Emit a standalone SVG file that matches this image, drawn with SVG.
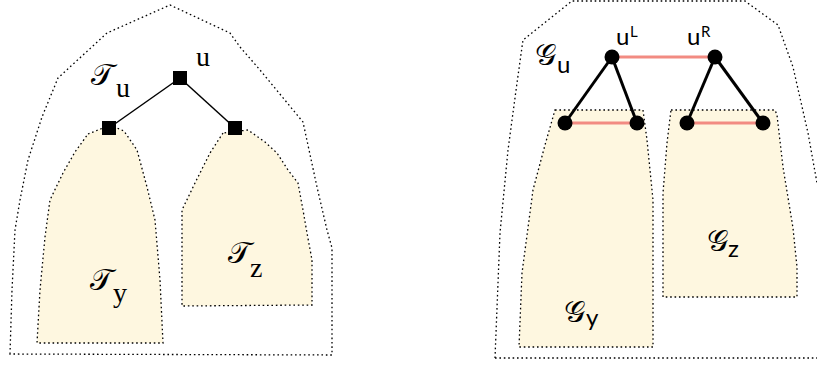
<svg xmlns="http://www.w3.org/2000/svg" width="817" height="365" viewBox="0 0 817 365">
<style>
.outline{fill:none;stroke:#000;stroke-width:1.3;stroke-dasharray:1.6 2.8}
.region{fill:#fef7e0;stroke:#000;stroke-width:1.3;stroke-dasharray:1.6 2.8}
.sq{fill:#000}
.dot{fill:#000}
.tedge{stroke:#000;stroke-width:1.5;fill:none}
.gedge{stroke:#000;stroke-width:3;fill:none}
.redge{stroke:#f28b82;stroke-width:3;fill:none}
.ser{font-family:'Liberation Serif','DejaVu Serif',serif;font-size:28px;fill:#000}
.scr{font-family:'DejaVu Sans','DejaVu Serif',sans-serif;font-size:30px;fill:#000}
.sans{font-family:Lato,'Liberation Sans',sans-serif;font-size:24px;fill:#000}
.sup{font-family:Lato,'Liberation Sans',sans-serif;font-size:15px;fill:#000}
</style>
<g id="left-figure">
<path id="Tu-outline" class="outline" d="M10,354 L12,290 L15,230 L20,200 L28,160 L42,117 L58,78 L107,33 L170,5 L230,33 L240,47 L260,70 L303,122 L317,187 L327,230 L332,248 L332,355 Z"/>
<path id="Ty-region" class="region" d="M88,134 L103,128 L117,128 L124,131 L137,150 L147,187 L155,220 L160,280 L163,343 L37,343 L40,290 L45,237 L50,200 L63,173 L75,152 Z"/>
<path id="Tz-region" class="region" d="M223,133 L210,153 L195,183 L182,210 L182,306 L312,305 L312,260 L307,233 L303,210 L298,183 L288,170 L277,153 L265,142 L248,130 Z"/>
<g id="tree-edges">
<line class="tedge" x1="180" y1="78" x2="109" y2="128"/>
<line class="tedge" x1="180" y1="78" x2="235" y2="128"/>
</g>
<g id="node-u"><rect class="sq" x="173" y="71" width="14" height="14"/><text class="ser" x="196" y="66">u</text></g>
<g id="node-y"><rect class="sq" x="102" y="121" width="14" height="14"/></g>
<g id="node-z"><rect class="sq" x="228" y="121" width="14" height="14"/></g>
<g id="label-Tu"><text class="scr" x="91" y="85">𝒯</text><text class="ser" x="116" y="97">u</text></g>
<g id="label-Ty"><text class="scr" x="90" y="290">𝒯</text><text class="ser" x="113" y="302">y</text></g>
<g id="label-Tz"><text class="scr" x="228" y="263">𝒯</text><text class="ser" x="250" y="277">z</text></g>
</g>
<g id="right-figure">
<path id="Gu-outline" class="outline" d="M495,358 L500,233 L508,150 L517,83 L523,40 L572,1 L745,1 L778,25 L793,67 L808,133 L817,183"/>
<line class="outline" x1="495" y1="358" x2="817" y2="358"/>
<path id="Gy-region" class="region" d="M555,110 L643,110 L647,140 L653,200 L653,347 L519,347 L522,273 L533,190 L545,145 Z"/>
<path id="Gz-region" class="region" d="M671,110 L775,110 L777,115 L783,167 L793,228 L797,267 L797,297 L663,297 L663,193 L667,143 Z"/>
<g id="connectors">
<line class="redge" x1="612" y1="57" x2="715" y2="57"/>
<line class="redge" x1="565" y1="123" x2="637" y2="123"/>
<line class="redge" x1="687" y1="123" x2="763" y2="123"/>
<line class="gedge" x1="612" y1="57" x2="565" y2="123"/>
<line class="gedge" x1="612" y1="57" x2="637" y2="123"/>
<line class="gedge" x1="715" y1="57" x2="687" y2="123"/>
<line class="gedge" x1="715" y1="57" x2="763" y2="123"/>
</g>
<g id="node-uL"><circle class="dot" cx="612" cy="57" r="7.5"/><text class="sans" x="616" y="45">u</text><text class="sup" x="630" y="37">L</text></g>
<g id="node-uR"><circle class="dot" cx="715" cy="57" r="7.5"/><text class="sans" x="687" y="45">u</text><text class="sup" x="701" y="37">R</text></g>
<g id="node-y1"><circle class="dot" cx="565" cy="123" r="7.5"/></g>
<g id="node-y2"><circle class="dot" cx="637" cy="123" r="7.5"/></g>
<g id="node-z1"><circle class="dot" cx="687" cy="123" r="7.5"/></g>
<g id="node-z2"><circle class="dot" cx="763" cy="123" r="7.5"/></g>
<g id="label-Gu"><text class="scr" x="535" y="65">𝒢</text><text class="sans" x="557" y="73">u</text></g>
<g id="label-Gy"><text class="scr" x="564" y="322">𝒢</text><text class="sans" x="586" y="326">y</text></g>
<g id="label-Gz"><text class="scr" x="707" y="251">𝒢</text><text class="sans" x="728" y="257">z</text></g>
</g>
</svg>
